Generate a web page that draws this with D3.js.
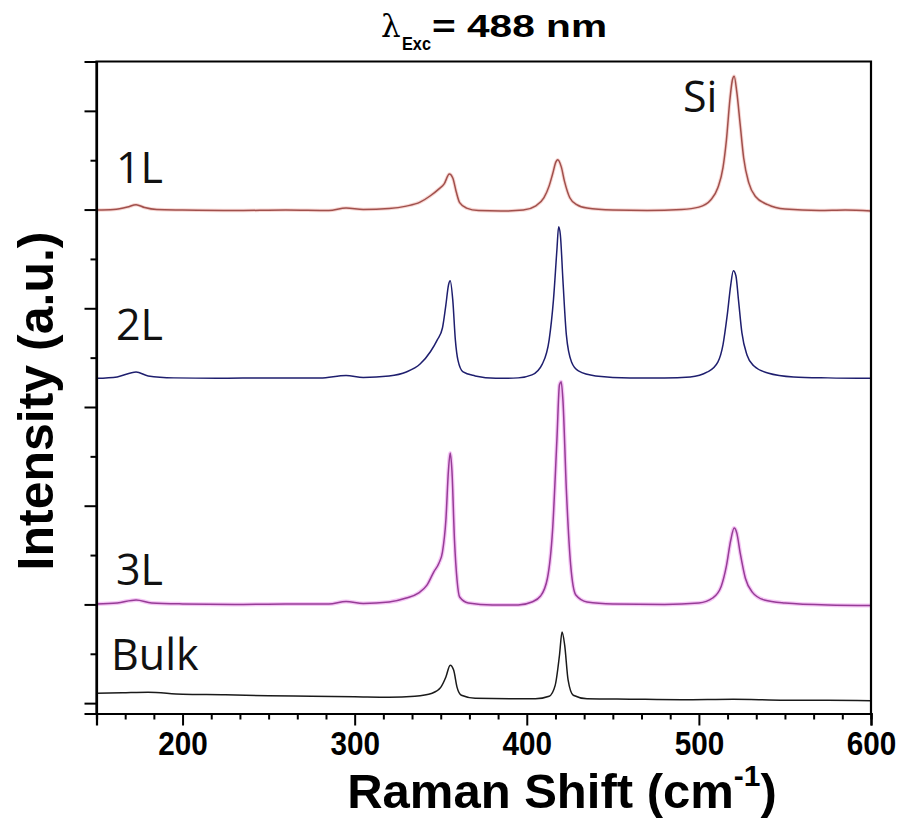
<!DOCTYPE html>
<html><head><meta charset="utf-8">
<script src="https://d3js.org/d3.v7.min.js"></script>
<style>body{margin:0;background:#fff}svg{display:block}</style>
</head><body>
<svg id="c" width="908" height="829"></svg>
<script>
// ---- data (Raman shift cm^-1, offset intensity a.u.) ----
const series = ["1L", "2L", "3L", "Bulk"];
const colors = ["#a0504c", "#1e1e6e", "#963c96", "#1a1a1a"];
const spec1L = [[150,9.99],[160,10.0],[168,10.05],[173,10.1],[178,10.04],[185,10.0],[200,9.99],[230,9.98],[260,9.99],[285,9.98],[295,10.03],[305,10.0],[320,10.02],[330,10.07],[338,10.15],[344,10.28],[349,10.42],[352,10.52],[355,10.72],[357,10.64],[359,10.36],[361,10.14],[365,10.03],[372,9.98],[385,9.97],[398,9.99],[405,10.07],[410,10.24],[413,10.48],[415,10.72],[417,10.97],[418,11.01],[420,10.87],[422,10.56],[425,10.24],[429,10.1],[435,10.03],[450,9.99],[470,9.98],[490,10.0],[500,10.05],[507,10.2],[511,10.44],[514,10.85],[516,11.41],[518,12.22],[519.5,12.63],[520.5,12.7],[522,12.39],[524,11.72],[526,11.05],[529,10.54],[533,10.26],[540,10.1],[550,10.01],[570,9.98],[585,9.99],[600,9.97]];
const spec2L = [[150,6.58],[162,6.61],[173,6.71],[180,6.63],[195,6.59],[220,6.58],[250,6.59],[280,6.59],[295,6.64],[305,6.6],[320,6.63],[330,6.71],[338,6.87],[344,7.12],[348,7.36],[351,7.6],[353,8.07],[354.5,8.47],[355.5,8.56],[357,8.17],[358.5,7.36],[360,6.95],[363,6.71],[370,6.63],[382,6.58],[395,6.59],[403,6.65],[409,6.87],[413,7.36],[415.5,8.17],[417.5,9.18],[418.5,9.65],[419.5,9.49],[421,8.57],[423,7.46],[426,6.91],[430,6.73],[440,6.63],[460,6.59],[480,6.59],[495,6.61],[505,6.71],[511,6.91],[514,7.26],[516.5,7.87],[518.5,8.47],[520,8.76],[521.5,8.66],[523,8.17],[525,7.5],[528,7.05],[532,6.83],[540,6.69],[555,6.61],[575,6.59],[600,6.58]];
const spec3L = [[150,2.01],[162,2.03],[173,2.09],[182,2.03],[200,2.01],[230,2.0],[260,2.01],[285,2.01],[295,2.06],[305,2.02],[320,2.05],[330,2.13],[337,2.23],[342,2.39],[346,2.66],[349,2.84],[351,3.06],[353,3.71],[354.5,4.72],[355.5,5.07],[356.5,4.72],[358,3.3],[359.5,2.49],[361,2.15],[366,2.03],[380,1.99],[395,1.99],[403,2.05],[408,2.17],[412,2.53],[415,3.51],[417.5,5.33],[419,6.45],[420,6.51],[421,6.14],[423,4.32],[425.5,2.8],[428.5,2.19],[435,2.05],[450,2.01],[480,2.0],[500,2.03],[508,2.13],[513,2.37],[516,2.78],[518.5,3.3],[520.5,3.55],[522,3.45],[524,3.04],[527,2.53],[531,2.25],[538,2.09],[550,2.03],[575,1.99],[600,1.98]];
const specBulk = [[150,0.2],[165,0.21],[180,0.22],[200,0.18],[225,0.17],[250,0.15],[275,0.14],[300,0.13],[320,0.12],[335,0.14],[345,0.2],[350,0.32],[353,0.53],[355.5,0.77],[357.5,0.67],[359.5,0.32],[362,0.16],[370,0.1],[390,0.09],[405,0.09],[413,0.14],[416.5,0.36],[419,0.97],[420.5,1.44],[422,1.18],[424,0.47],[427,0.16],[435,0.09],[460,0.08],[490,0.07],[520,0.08],[550,0.06],[575,0.06],[600,0.05]];
const spectra = [spec1L, spec2L, spec3L, specBulk];
const xMajorTicks = [200, 300, 400, 500, 600];
const yTicks = [0,1,2,3,4,5,6,7,8,9,10,11,12];
const xDomain = [150, 600];
const yDomain = [-0.21, 13.0];

// ---- layout ----
const L = 96.5, R = 871, T = 61.5, B = 713.5;
const svg = d3.select("#c");
const x = d3.scaleLinear().domain(xDomain).range([L, R]);
const y = d3.scaleLinear().domain(yDomain).range([B, T]);
const AX = "'Liberation Sans',Arial,sans-serif";

// spectra
const line = d3.line().x(d => x(d[0])).y(d => y(d[1])).curve(d3.curveMonotoneX);
const g = svg.append("g");
g.append("path").datum(spec3L).attr("d", line).attr("fill","none")
  .attr("stroke","#f2b8f2").attr("stroke-width",4).attr("stroke-opacity",0.8);
g.append("path").datum(spec1L).attr("d", line).attr("fill","none")
  .attr("stroke","#f4c4c0").attr("stroke-width",3.5).attr("stroke-opacity",0.7);
spectra.forEach((s, i) => {
  g.append("path").datum(s).attr("d", line).attr("fill","none")
    .attr("stroke", colors[i]).attr("stroke-width", 1.5).attr("stroke-linejoin","round");
});

// frame
svg.append("path").attr("d", `M${L},${B}V${T}H${R}V${B}`)
  .attr("fill","none").attr("stroke","#000").attr("stroke-width",2.2);

// x axis
const xMinor = d3.range(150, 600.01, 100/6).filter(v => !xMajorTicks.some(m => Math.abs(m - v) < 1e-6));
const xAxisMinor = d3.axisBottom(x).tickValues(xMinor).tickSize(6).tickFormat("");
const xAxisMajor = d3.axisBottom(x).tickValues(xMajorTicks).tickSize(12).tickPadding(6).tickFormat(d3.format("d"));
const gxm = svg.append("g").attr("transform", `translate(0,${B})`).call(xAxisMinor);
const gx = svg.append("g").attr("transform", `translate(0,${B})`).call(xAxisMajor);
[gxm, gx].forEach(gg => {
  gg.select(".domain").attr("stroke","#000").attr("stroke-width",2.2);
  gg.selectAll(".tick line").attr("stroke","#000").attr("stroke-width",2);
});
gx.selectAll(".tick text").attr("font-family", AX).attr("font-weight","bold")
  .attr("font-size", 33).attr("fill","#000").attr("transform","scale(0.9,1)");

// y axis (no labels)
const yAxis = d3.axisLeft(y).tickValues(yTicks).tickFormat("").tickSize(12);
const gy = svg.append("g").attr("transform", `translate(${L},0)`).call(yAxis);
gy.select(".domain").attr("stroke","#000").attr("stroke-width",2.2);
gy.selectAll(".tick line").attr("stroke","#000").attr("stroke-width",2)
  .attr("x2", d => d % 2 === 0 ? -12 : -6);

// axis titles
const xt = svg.append("text").attr("x", 562).attr("y", 808).attr("text-anchor","middle")
  .attr("font-family", AX).attr("font-weight","bold").attr("font-size", 49).attr("fill","#000");
xt.append("tspan").text("Raman Shift (cm");
xt.append("tspan").attr("font-size", 30).attr("dy", -22).text("-1");
xt.append("tspan").attr("dy", 22).text(")");

svg.append("text").attr("transform", "translate(53,401) rotate(-90)").attr("text-anchor","middle")
  .attr("font-family", AX).attr("font-weight","bold").attr("font-size", 50).attr("fill","#000")
  .text("Intensity (a.u.)");

// title
svg.append("text").attr("x", 381).attr("y", 37)
  .attr("font-family","'DejaVu Serif',serif").attr("font-size",31).attr("fill","#000").text("λ");
svg.append("text").attr("x", 402).attr("y", 50)
  .attr("font-family", AX).attr("font-weight","bold").attr("font-size",19).attr("fill","#000")
  .attr("textLength", 29).attr("lengthAdjust","spacingAndGlyphs").text("Exc");
svg.append("text").attr("x", 432).attr("y", 37)
  .attr("font-family", AX).attr("font-weight","bold").attr("font-size",32).attr("fill","#000")
  .attr("textLength", 175).attr("lengthAdjust","spacingAndGlyphs").text("= 488 nm");

// series labels
const LF = "'Open Sans','Noto Sans',sans-serif";
const labelPos = [[116,183],[116,340],[116,585],[111,670]];
series.forEach((s, i) => {
  svg.append("text").attr("x", labelPos[i][0]).attr("y", labelPos[i][1])
    .attr("font-family", LF).attr("font-size", 43).attr("fill","#111").text(s);
});
svg.append("text").attr("x", 683).attr("y", 112)
  .attr("font-family", LF).attr("font-size", 43).attr("fill","#111").text("Si");
</script>
</body></html>
